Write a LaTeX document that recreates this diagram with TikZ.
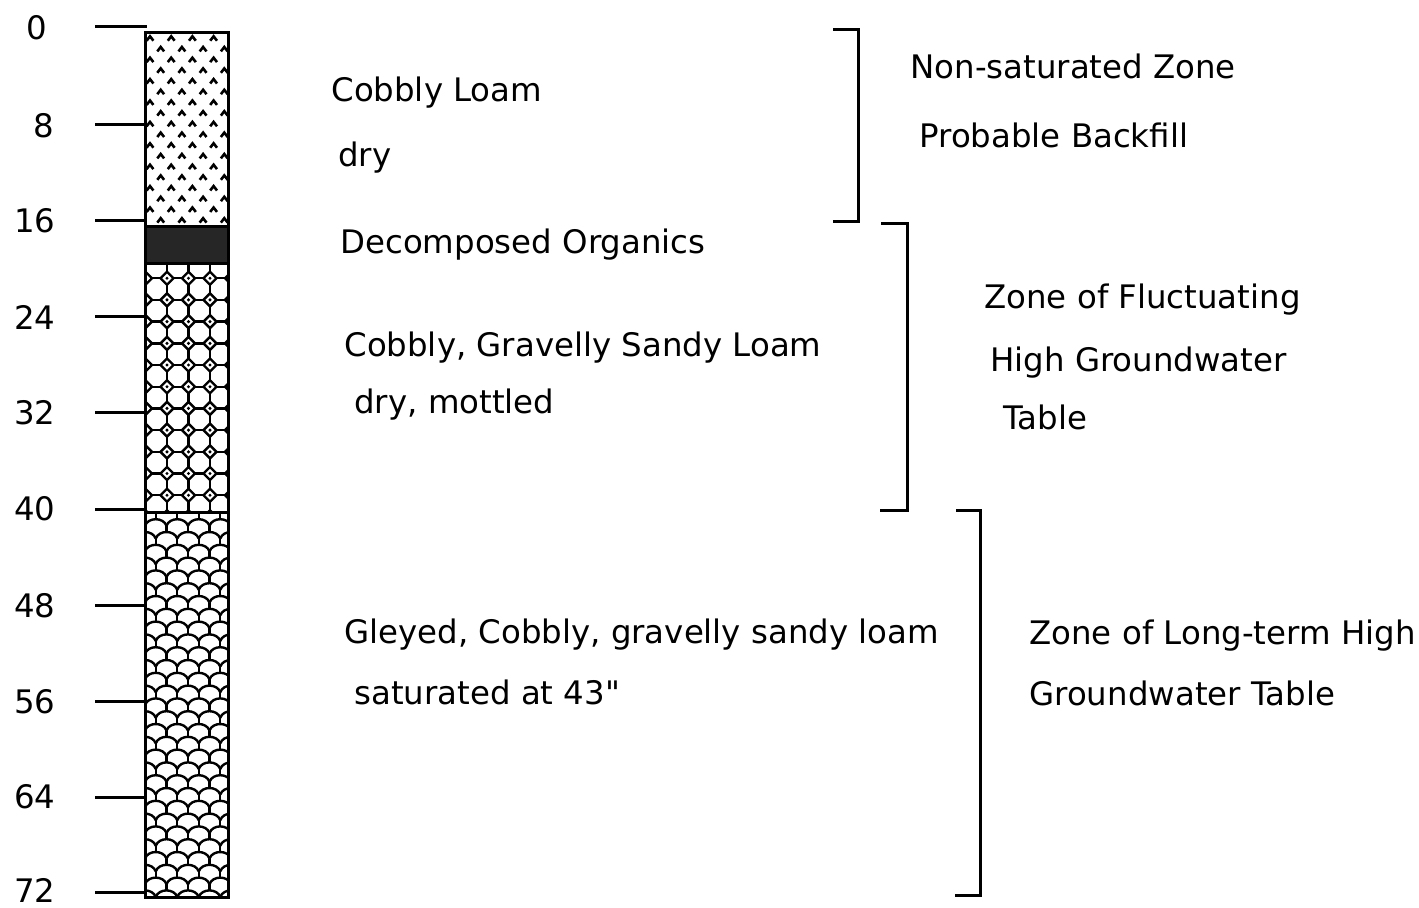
\documentclass[tikz,border=0pt]{standalone}
\usepackage{fontspec}
\setmainfont{DejaVu Sans}[Ligatures=TeXOff]
\begin{document}
\begin{tikzpicture}[x=0.5pt,y=-0.5pt,
  rule/.style={line width=1.5pt,line cap=rect},
  patline/.style={line width=1.2pt},
  lbl/.style={anchor=base west,inner sep=0pt,font=\fontsize{16.2pt}{19pt}\selectfont},
  depth/.style={anchor=center,inner sep=0pt,font=\fontsize{16.2pt}{19pt}\selectfont}]
\useasboundingbox (0,0) rectangle (1419,907);

% depth scale: ticks and numbers
\foreach \v/\yy/\xx/\ty in {0/26/36.5/28,8/124/43.5/126,16/220/35/221,24/316/35/317,32/412/35/413,40/509/35/509,48/605/35/606,56/701/35/702,64/797/35/797,72/892/35/890} {
  \draw[rule] (96,\yy) -- (145,\yy);
  \node[depth] (d\v) at (\xx,\ty) {\v};
}

% layer 1: cobbly loam, chevrons
\begin{scope}
  \clip (145,32) rectangle (228,226);
  \foreach \k in {0,...,18} {
    \pgfmathsetmacro\yy{38.3+\k*10.7}
    \pgfmathsetmacro\off{mod(\k,2)*10.7}
    \foreach \i in {-1,...,4} {
      \pgfmathsetmacro\xx{150+\i*21.2+\off}
      \draw[line width=1.3pt,line join=miter] (\xx-3.4,\yy+2.4) -- (\xx,\yy-2) -- (\xx+3.4,\yy+2.4);
    }
  }
\end{scope}

% layer 2: decomposed organics
\fill[black!85] (145,226) rectangle (228,263);

% layer 3: octagons with dotted diamonds
\begin{scope}
  \clip (145,263) rectangle (228,512);
  \foreach \j in {0,...,12} {
    \pgfmathsetmacro\yy{256.5+\j*21.7}
    \foreach \i in {0,...,4} {
      \pgfmathsetmacro\xx{145.5+\i*21.5}
      \draw[patline] (\xx-6.5,\yy) -- (\xx,\yy-6.5) -- (\xx+6.5,\yy) -- (\xx,\yy+6.5) -- cycle;
      \fill (\xx,\yy) circle (1.7);
      \draw[patline] (\xx+6.5,\yy) -- (\xx+15,\yy);
      \draw[patline] (\xx,\yy+6.5) -- (\xx,\yy+15.2);
    }
  }
\end{scope}

% layer 4: gleyed loam, scales
\begin{scope}
  \clip (145,513) rectangle (228,897);
  \foreach \j in {-1,...,30} {
    \pgfmathsetmacro\yy{513+\j*12.8}
    \pgfmathsetmacro\off{mod(\j+2,2)*10.75}
    \foreach \i in {-1,...,4} {
      \pgfmathsetmacro\xx{145+\i*21.5+\off}
      \draw[patline] (\xx,\yy+12.8) .. controls (\xx+3,\yy+4) and (\xx+18.5,\yy+4) .. (\xx+21.5,\yy+12.8);
      \draw[patline] (\xx+10.75,\yy+6) -- (\xx+10.75,\yy);
    }
  }
\end{scope}

% column outline and layer boundaries
\draw[rule] (145,226) -- (228,226);
\draw[rule] (145,263) -- (228,263);
\draw[rule] (145,512) -- (228,512);
\draw[rule] (145,32) rectangle (228,897);

% layer descriptions
\node[lbl] (t1) at (331,101) {Cobbly Loam};
\node[lbl] (t2) at (338,166) {dry};
\node[lbl] (t3) at (340,253) {Decomposed Organics};
\node[lbl] (t4) at (344,356) {Cobbly, Gravelly Sandy Loam};
\node[lbl] (t5) at (354,413) {dry, mottled};
\node[lbl] (t6) at (344,643) {Gleyed, Cobbly, gravelly sandy loam};
\node[lbl] (t7) at (354,704) {saturated at 43"};

% zone brackets
\draw[rule,line cap=butt] (833,29) -- (858,29) -- (858,221) -- (833,221);
\draw[rule,line cap=butt] (881,223) -- (907,223) -- (907,510) -- (880,510);
\draw[rule,line cap=butt] (956,510) -- (980,510) -- (980,895) -- (955,895);

% zone descriptions
\node[lbl] (z1) at (910,78) {Non-saturated Zone};
\node[lbl] (z2) at (919,147) {Probable Backfill};
\node[lbl] (z3) at (984,308) {Zone of Fluctuating};
\node[lbl] (z4) at (990,371) {High Groundwater};
\node[lbl] (z5) at (1003,429) {Table};
\node[lbl] (z6) at (1029,644) {Zone of Long-term High};
\node[lbl] (z7) at (1029,705) {Groundwater Table};
\end{tikzpicture}
\end{document}
